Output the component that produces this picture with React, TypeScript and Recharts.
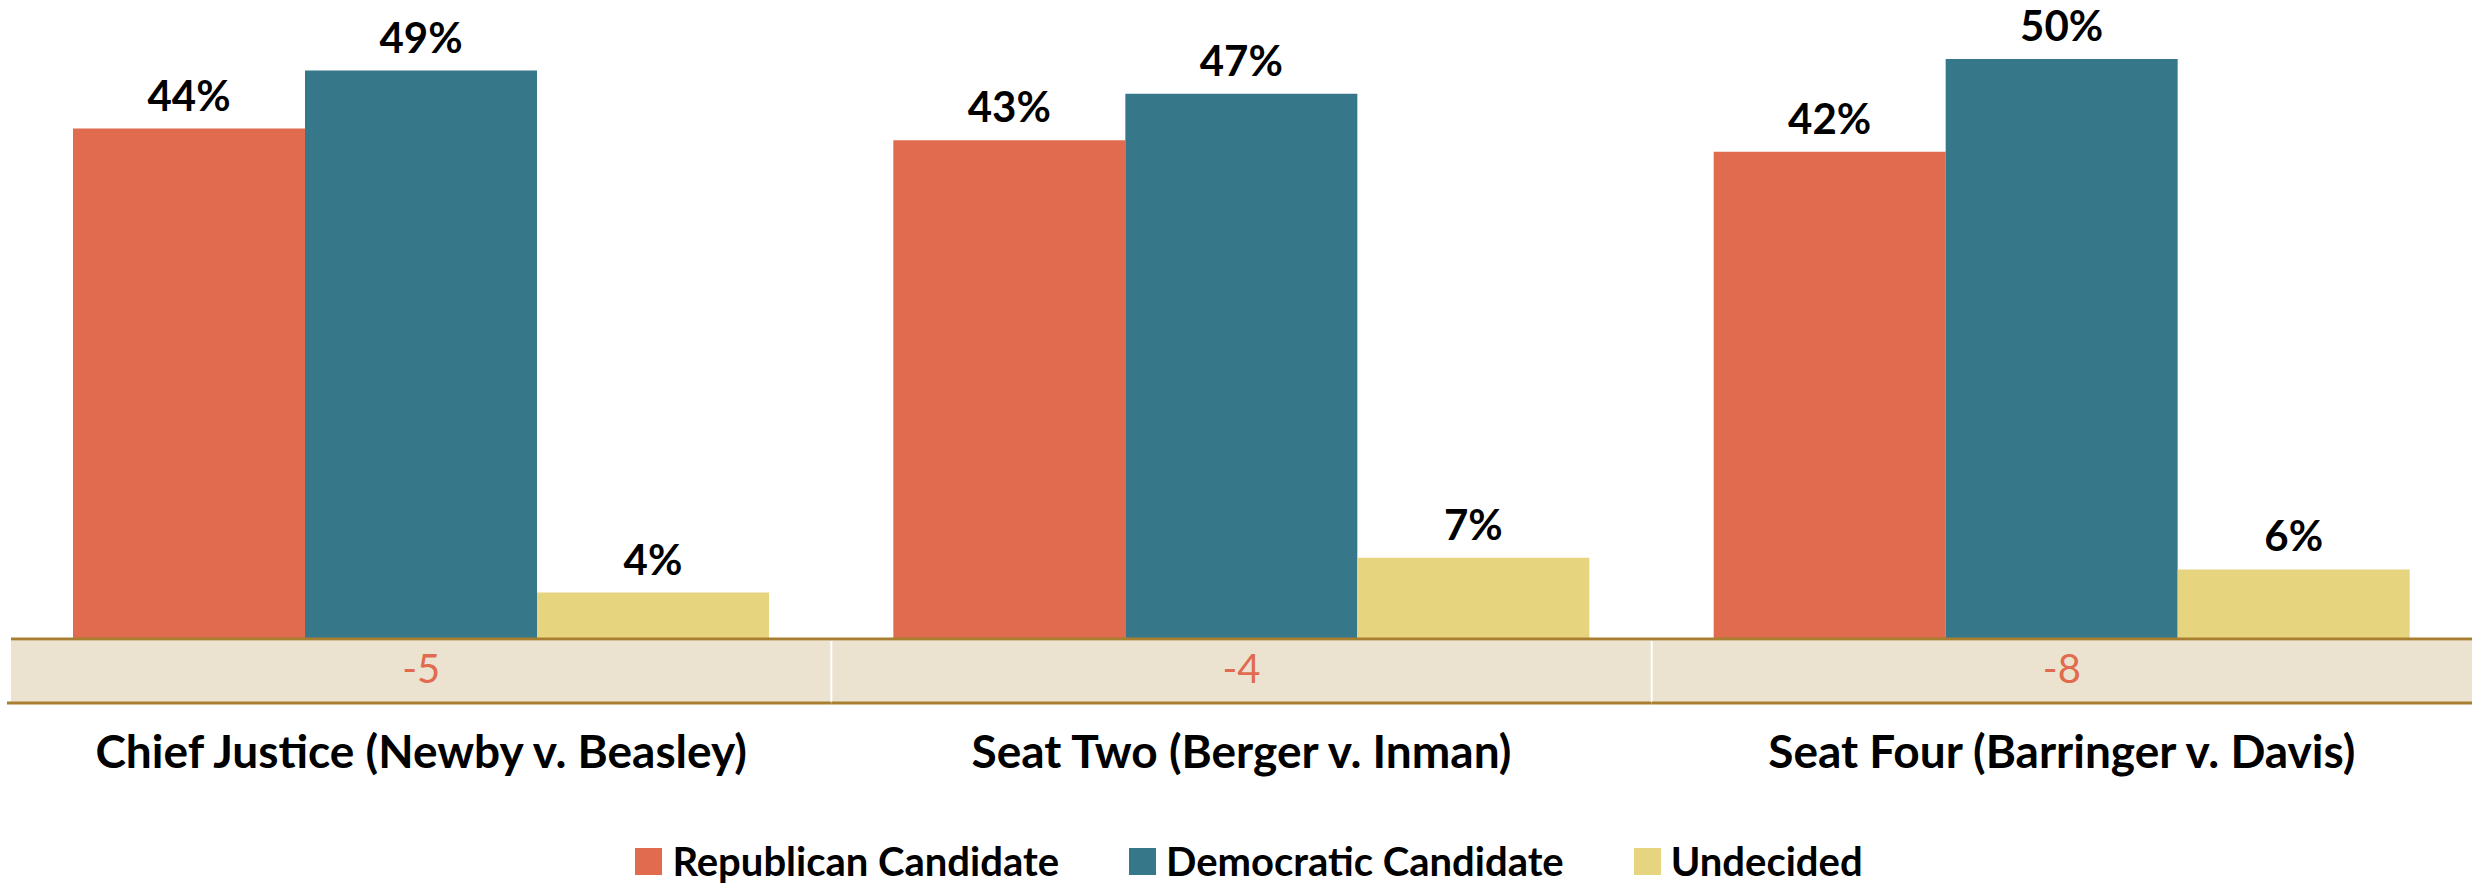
import React from 'react';
import { BarChart, Bar, XAxis, YAxis, Legend, LabelList } from 'recharts';

const categories = ['Chief Justice (Newby v. Beasley)', 'Seat Two (Berger v. Inman)', 'Seat Four (Barringer v. Davis)'];
const republican = [44, 43, 42];
const democratic = [49, 47, 50];
const undecided = [4, 7, 6];
const netMargins = ['-5', '-4', '-8'];

const seriesNames = ['Republican Candidate', 'Democratic Candidate', 'Undecided'];

const RED = '#E06B4F';
const BLUE = '#37778A';
const YELLOW = '#E6D47F';
const BEIGE = '#EBE3D0';
const BROWN = '#A87E30';

const W = 2478;
const H = 883;
const MARGIN = { top: 1, right: 6, left: 11, bottom: 0 };
const bandWidth = (W - MARGIN.left - MARGIN.right) / categories.length;

const data = categories.map((name, i) => ({
    name,
    rep: republican[i],
    dem: democratic[i],
    und: undecided[i],
    net: netMargins[i],
}));

const CategoryTick = (props: any) => {
    const { x, y, payload, index } = props;
    const left = x - bandWidth / 2;
    return (
        <g>
            <rect x={left} y={y + 2} width={bandWidth} height={61} fill={BEIGE} />
            {index > 0 && <line x1={left} x2={left} y1={y + 2} y2={y + 63} stroke="#ffffff" strokeWidth={2} />}
            <line x1={index === 0 ? left - 4 : left} x2={left + bandWidth} y1={y + 64} y2={y + 64} stroke={BROWN} strokeWidth={3} />
            <text x={x} y={y + 44} textAnchor="middle" fill={RED} fontFamily="Lato" fontSize={40}>
                {data[index]?.net}
            </text>
            <text x={x} y={y + 129} textAnchor="middle" fill="#000" fontFamily="Lato" fontWeight={700} fontSize={46}>
                {payload.value}
            </text>
        </g>
    );
};

const LegendContent = () => {
    const colors = [RED, BLUE, YELLOW];
    return (
        <div style={{ display: 'flex', justifyContent: 'center', alignItems: 'center', gap: 70, height: 44, paddingLeft: 20, fontFamily: 'Lato', fontWeight: 700, fontSize: 40, color: '#000' }}>
            {seriesNames.map((n, i) => (
                <div key={n} style={{ display: 'flex', alignItems: 'center', gap: 10 }}>
                    <span style={{ display: 'inline-block', width: 27, height: 27, background: colors[i] }} />
                    <span style={{ lineHeight: '44px' }}>{n}</span>
                </div>
            ))}
        </div>
    );
};

const labelStyle = { fontFamily: 'Lato', fontWeight: 700, fontSize: 42, fill: '#000' };

export default function App() {
    return (
        <div style={{ position: 'absolute', left: 0, top: 0, width: W, height: H, background: '#fff' }}>
            <BarChart width={W} height={H} data={data} margin={MARGIN} barCategoryGap={62} barGap={0}>
                <XAxis
                    dataKey="name"
                    height={200}
                    tickSize={0}
                    tickMargin={0}
                    tickLine={false}
                    axisLine={{ stroke: BROWN, strokeWidth: 3 }}
                    tick={<CategoryTick />}
                    interval={0}
                />
                <YAxis hide domain={[0, 55]} />
                <Legend
                    verticalAlign="bottom"
                    content={<LegendContent />}
                    wrapperStyle={{ left: 0, bottom: 0, width: W, height: 44 }}
                />
                <Bar dataKey="rep" name={seriesNames[0]} fill={RED} isAnimationActive={false}>
                    <LabelList dataKey="rep" position="top" offset={18} formatter={(v: any) => `${v}%`} style={labelStyle} />
                </Bar>
                <Bar dataKey="dem" name={seriesNames[1]} fill={BLUE} isAnimationActive={false}>
                    <LabelList dataKey="dem" position="top" offset={18} formatter={(v: any) => `${v}%`} style={labelStyle} />
                </Bar>
                <Bar dataKey="und" name={seriesNames[2]} fill={YELLOW} isAnimationActive={false}>
                    <LabelList dataKey="und" position="top" offset={18} formatter={(v: any) => `${v}%`} style={labelStyle} />
                </Bar>
            </BarChart>
        </div>
    );
}
